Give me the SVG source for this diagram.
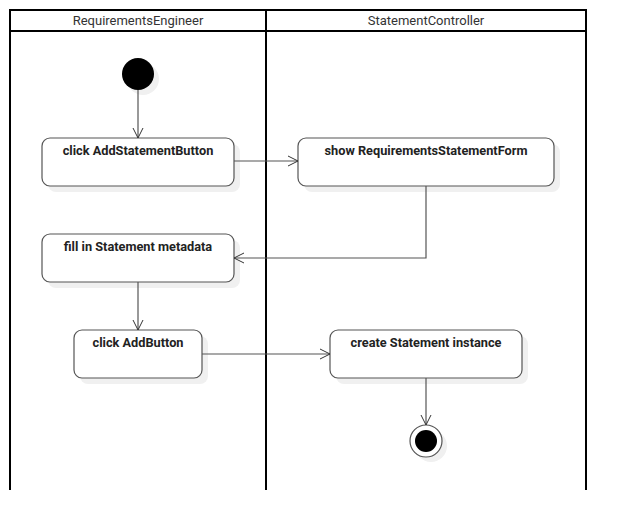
<svg xmlns="http://www.w3.org/2000/svg" width="626" height="530" viewBox="0 0 626 530">
<defs>
<marker id="arr" markerWidth="12" markerHeight="12" refX="11" refY="6" orient="auto" markerUnits="userSpaceOnUse">
<path d="M1,1 L11,6 L1,11" fill="none" stroke="#333" stroke-width="1"/>
</marker>
<style>
.lane{fill:none;stroke:#000;stroke-width:2}
.hdr{font-family:Roboto,"Liberation Sans",sans-serif;font-size:13px;fill:#333;text-anchor:middle}
.shadow{fill:#f0f0f0}
.act{fill:#fff;stroke:#555;stroke-width:1.2}
.lbl{font-family:Roboto,"Liberation Sans",sans-serif;font-size:12.75px;font-weight:bold;fill:#222;text-anchor:middle}
.conn{fill:none;stroke:#555;stroke-width:1.2;marker-end:url(#arr)}
</style>
</defs>
<rect width="626" height="530" fill="#fff"/>
<g id="lanes">
<path class="lane" d="M10,490 V10 H586 V490 M10,31 H586 M266,10 V490"/>
<text class="hdr" x="138" y="25">RequirementsEngineer</text>
<text class="hdr" x="426" y="25">StatementController</text>
</g>
<g id="start">
<circle class="shadow" cx="143" cy="79" r="16"/>
<circle cx="138" cy="74" r="16" fill="#000"/>
</g>
<g id="n1">
<rect class="shadow" x="48" y="144" width="192" height="48" rx="8"/>
<rect class="act" x="42" y="138" width="192" height="48" rx="8"/>
<text class="lbl" x="138" y="155">click AddStatementButton</text>
</g>
<g id="n2">
<rect class="shadow" x="304" y="144" width="256" height="48" rx="8"/>
<rect class="act" x="298" y="138" width="256" height="48" rx="8"/>
<text class="lbl" x="426" y="155">show RequirementsStatementForm</text>
</g>
<g id="n3">
<rect class="shadow" x="48" y="240" width="192" height="48" rx="8"/>
<rect class="act" x="42" y="234" width="192" height="48" rx="8"/>
<text class="lbl" x="138" y="251">fill in Statement metadata</text>
</g>
<g id="n4">
<rect class="shadow" x="80" y="336" width="128" height="48" rx="8"/>
<rect class="act" x="74" y="330" width="128" height="48" rx="8"/>
<text class="lbl" x="138" y="347">click AddButton</text>
</g>
<g id="n5">
<rect class="shadow" x="336" y="336" width="192" height="48" rx="8"/>
<rect class="act" x="330" y="330" width="192" height="48" rx="8"/>
<text class="lbl" x="426" y="347">create Statement instance</text>
</g>
<g id="end">
<circle class="shadow" cx="431" cy="446" r="16"/>
<circle cx="426" cy="441" r="16" fill="#fff" stroke="#555" stroke-width="1.2"/>
<circle cx="426" cy="441" r="11" fill="#000"/>
</g>
<g id="connectors">
<path class="conn" d="M138,90 V138"/>
<path class="conn" d="M234,161 H298"/>
<path class="conn" d="M426,186 V258 H234"/>
<path class="conn" d="M138,282 V330"/>
<path class="conn" d="M202,354 H330"/>
<path class="conn" d="M426,378 V425"/>
</g>
</svg>
